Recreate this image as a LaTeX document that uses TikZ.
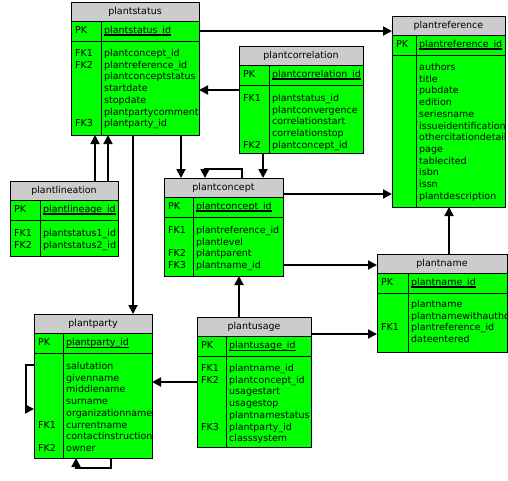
\documentclass[tikz,border=0pt]{standalone}
\usepackage{fontspec}
\setmainfont{DejaVu Sans}
\usetikzlibrary{arrows.meta,calc}
\definecolor{hdrgray}{RGB}{204,204,204}
\definecolor{tblgreen}{RGB}{0,255,0}
\newcommand{\pkid}[2][1.6pt]{\setbox0\hbox{#2}\rlap{\copy0}\rule[-2.4pt]{\wd0}{#1}}
\tikzset{
  hdr/.style={draw, fill=hdrgray, line width=0.8pt, inner sep=0pt, outer sep=0pt, minimum height=19pt},
  pkrow/.style={draw, fill=tblgreen, line width=0.8pt, inner sep=0pt, outer sep=0pt, minimum height=20pt},
  bodyrow/.style={draw, fill=tblgreen, line width=0.8pt, inner sep=0pt, outer sep=0pt},
  sep/.style={line width=0.8pt},
  key/.style={anchor=west, inner sep=0pt, text height=7pt, text depth=2pt},
  fld/.style={key},
  fk/.style={line width=1.8pt, -{Triangle[length=9pt,width=9pt]}}
}
\begin{document}
\begin{tikzpicture}[x=1pt, y=-1pt, font=\fontsize{9.5}{11}\selectfont]
  \fill[white] (0,0) rectangle (508,480);
  \useasboundingbox (0,0) rectangle (508,480);
  % table frame: name, x, y, width, divider, body height, title
  \def\tbl#1#2#3#4#5#6#7{%
    \node[hdr, minimum width=#4pt, anchor=north west] (#1) at (#2,#3) {#7};
    \node[pkrow, minimum width=#4pt, anchor=north west] (#1-pk) at (#1.south west) {};
    \node[bodyrow, minimum width=#4pt, minimum height=#6pt, anchor=north west] (#1-body) at (#1-pk.south west) {};
    \draw[sep] ($(#1-pk.north west)+(#5,0)$) -- ($(#1-body.south west)+(#5,0)$);
  }
  % table text: name, divider, first row, key field, rows
  \def\rows#1#2#3#4#5{%
    \begin{scope}
      \clip (#1-pk.north west) rectangle (#1-body.south east);
      \node[key] (#1-pkk) at ($(#1-pk.west)+(4,0)$) {PK};
      \node[fld] (#1-pkf) at ($(#1-pk.west)+(#2+3,0)$) {#4};
      \foreach \k/\f [count=\i] in {#5}{
        \node[key] (#1-k\i) at ($(#1-body.north west)+(4,{#3+(\i-1)*11.7})$) {\k};
        \node[fld] (#1-f\i) at ($(#1-body.north west)+(#2+3,{#3+(\i-1)*11.7})$) {\f};
      }
    \end{scope}
  }
  \tbl{ps}{71}{2}{128}{30}{94}{plantstatus}
  \rows{ps}{30}{13}{\pkid{plantstatus\_id}}{FK1/plantconcept\_id, FK2/plantreference\_id,
    /plantconceptstatus, /startdate, /stopdate, /plantpartycomments, FK3/plantparty\_id}
  \tbl{pcor}{239}{46}{124}{30}{68}{plantcorrelation}
  \rows{pcor}{30}{14}{\pkid{plantcorrelation\_id}}{FK1/plantstatus\_id, /plantconvergence,
    /correlationstart, /correlationstop, FK2/plantconcept\_id}
  \tbl{pref}{392}{16}{113}{24}{152}{plantreference}
  \rows{pref}{24}{13}{\pkid{plantreference\_id}}{/authors, /title, /pubdate, /edition, /seriesname,
    /issueidentification, /othercitationdetails, /page, /tablecited, /isbn, /issn, /plantdescription}
  \tbl{plin}{10}{181}{108}{30}{36}{plantlineation}
  \rows{plin}{30}{14}{\pkid{plantlineage\_id}}{FK1/plantstatus1\_id, FK2/plantstatus2\_id}
  \tbl{pcon}{164}{178}{119}{29}{59}{plantconcept}
  \rows{pcon}{29}{14}{\pkid{plantconcept\_id}}{FK1/plantreference\_id, /plantlevel,
    FK2/plantparent, FK3/plantname\_id}
  \tbl{pname}{377}{254}{130}{31}{59}{plantname}
  \rows{pname}{31}{12}{\pkid{plantname\_id}}{/plantname, /plantnamewithauthor,
    FK1/plantreference\_id, /dateentered}
  \tbl{ppar}{34}{314}{118}{29}{105}{plantparty}
  \rows{ppar}{29}{14}{\pkid[0.8pt]{plantparty\_id}}{/salutation, /givenname, /middlename, /surname,
    /organizationname, FK1/currentname, /contactinstructions, FK2/owner}
  \tbl{pusage}{197}{317}{114}{29}{91}{plantusage}
  \rows{pusage}{29}{13}{\pkid[0.8pt]{plantusage\_id}}{FK1/plantname\_id, FK2/plantconcept\_id,
    /usagestart, /usagestop, /plantnamestatus, FK3/plantparty\_id, /classsystem}
  % relationships
  \draw[fk] (ps-pk.east) -- (pref.west |- ps-pk.east);
  \draw[fk] (pcor-body.west |- 0,90) -- (ps-body.east |- 0,90);
  \draw[fk] (plin.north -| 95,0) -- (ps-body.south -| 95,0);
  \draw[fk] (plin.north -| 108,0) -- (ps-body.south -| 108,0);
  \draw[fk] (ps-body.south -| 133,0) -- (ppar.north -| 133,0);
  \draw[fk] (ps-body.south -| 181,0) -- (pcon.north -| 181,0);
  \draw[fk] (pcon.north -| 242,0) -- ++(0,-9) -| (pcon.north -| 205,0);
  \draw[fk] (pcor-body.south -| 263,0) -- (pcon.north -| 263,0);
  \draw[fk] (pcon.east |- 0,194) -- (pref-body.west |- 0,194);
  \draw[fk] (pcon-body.east |- 0,265) -- (pname.west |- 0,265);
  \draw[fk] (pusage.north -| 239,0) -- (pcon-body.south -| 239,0);
  \draw[fk] (pname.north -| 449,0) -- (pref-body.south -| 449,0);
  \draw[fk] (pusage.east |- 0,334) -- (pname-body.west |- 0,334);
  \draw[fk] (pusage-body.west |- 0,382) -- (ppar-body.east |- 0,382);
  \draw[fk] (ppar-body.west |- 0,365) -- ++(-8,0) |- (ppar-body.west |- 0,409);
  \draw[fk] (ppar-body.south -| 111,0) -- ++(0,10) -| (ppar-body.south -| 76,0);
\end{tikzpicture}
\end{document}
